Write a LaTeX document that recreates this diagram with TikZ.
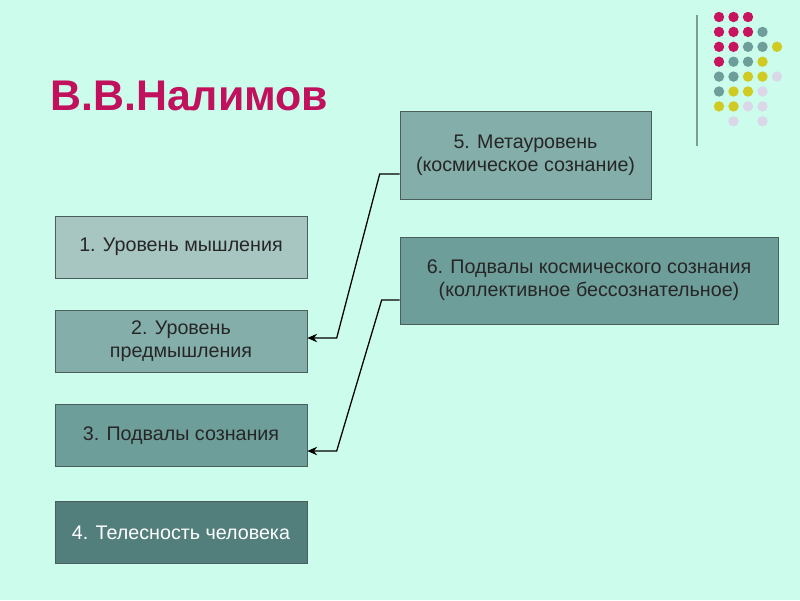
\documentclass[tikz,border=0pt]{standalone}
\usepackage{fontspec}
\setmainfont{Liberation Sans}
\usetikzlibrary{arrows.meta}

\definecolor{bgmint}{HTML}{CCFCEB}
\definecolor{titlered}{HTML}{C1105C}
\definecolor{edgegray}{HTML}{4A5E5C}
\definecolor{lvlA}{HTML}{A8C6C1}
\definecolor{lvlB}{HTML}{84AEAA}
\definecolor{lvlC}{HTML}{6E9E9A}
\definecolor{lvlD}{HTML}{527F7C}
\definecolor{dmag}{HTML}{C8145E}
\definecolor{dteal}{HTML}{6E9E9A}
\definecolor{dyel}{HTML}{CFCB22}
\definecolor{dlav}{HTML}{DAD8E8}
\definecolor{rulegray}{HTML}{7A9E97}

\begin{document}
\begin{tikzpicture}[
  x=0.025cm, y=-0.025cm,
  level/.style={rectangle, draw=edgegray, thin, minimum width=6.3cm,
                minimum height=1.55cm, align=center, text=black!85,
                font=\fontsize{14}{16.5}\selectfont},
  arrow/.style={-{Stealth[length=7pt, width=6pt]}, line width=0.9pt, black},
]
  \fill[bgmint] (0,0) rectangle (800,600);
  \useasboundingbox (0,0) rectangle (800,600);

  % title
  \node[anchor=base west, inner sep=0pt, text=titlered,
        font=\fontsize{30.5}{34}\selectfont\bfseries] (title) at (50,110) {В.В.Налимов};

  % corner decoration
  \draw[rulegray, line width=2pt] (697,15) -- (697,146);
  \foreach \row [count=\r] in {
      {dmag,dmag,dmag},
      {dmag,dmag,dmag,dteal},
      {dmag,dmag,dteal,dteal,dyel},
      {dmag,dteal,dteal,dyel},
      {dteal,dteal,dyel,dyel,dlav},
      {dteal,dyel,dyel,dlav},
      {dyel,dyel,dlav,dlav},
      {none,dlav,none,dlav}}
    \foreach \c [count=\k] in \row
      \fill[fill=\c] ({719+(\k-1)*14.5},{17+(\r-1)*14.9}) circle (5.2);

  % levels
  \node[level, fill=lvlA] (m1) at (181,247) {1. Уровень мышления};
  \node[level, fill=lvlB] (m2) at (181,341) {2. Уровень\\предмышления};
  \node[level, fill=lvlC] (m3) at (181,435.5) {3. Подвалы сознания};
  \node[level, fill=lvlD, text=white] (m4) at (181,532.5) {4. Телесность человека};
  \node[level, fill=lvlB, minimum width=6.275cm, minimum height=2.2cm]
    (m5) at (525.5,155) {5. Метауровень\\(космическое сознание)};
  \node[level, fill=lvlC, minimum width=9.45cm, minimum height=2.175cm]
    (m6) at (589,280.5) {6. Подвалы космического сознания\\(коллективное бессознательное)};

  \draw[arrow] ([yshift=-0.475cm]m5.west) -- ++(-20,0) -- ++(-43,164)
    -- ([yshift=0.075cm]m2.east);
  \draw[arrow] ([yshift=-0.4875cm]m6.west) -- ++(-18,0) -- ++(-45,151)
    -- ([yshift=-0.3875cm]m3.east);
\end{tikzpicture}
\end{document}
